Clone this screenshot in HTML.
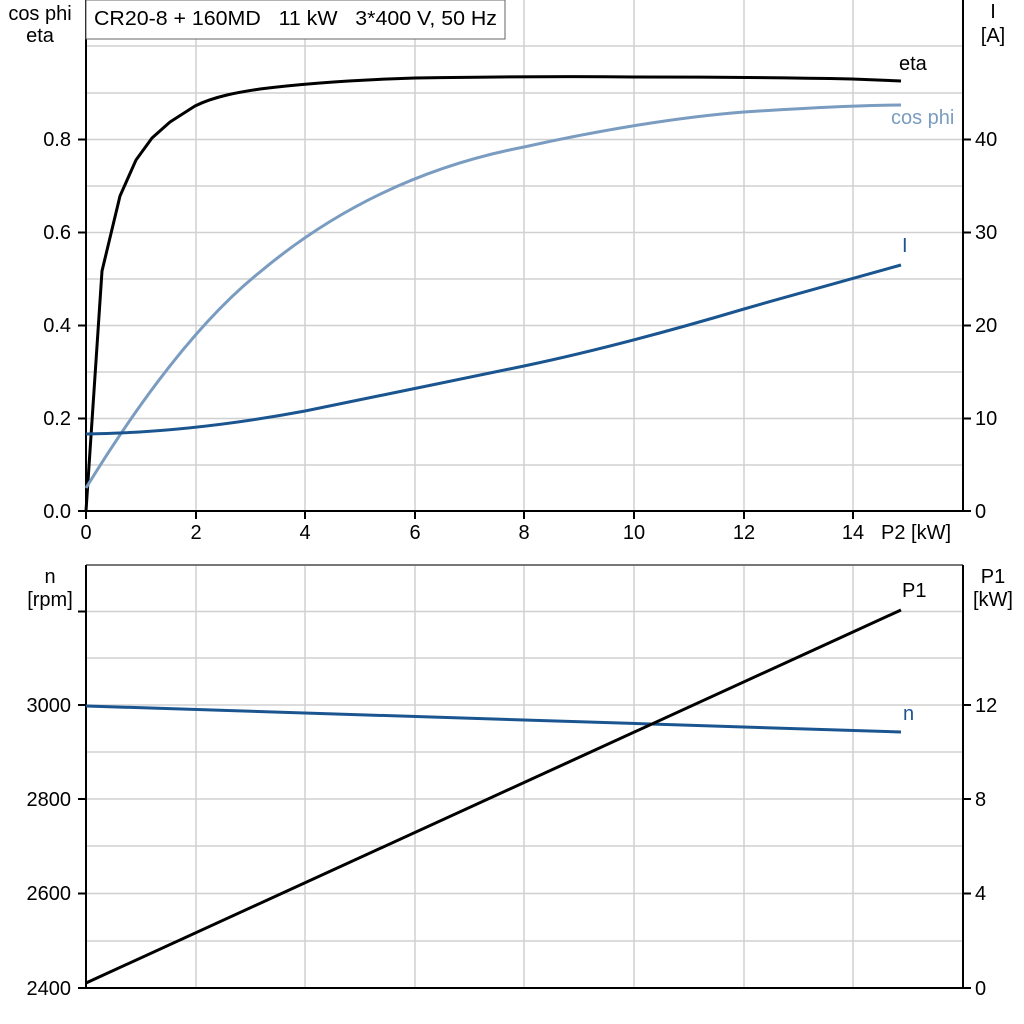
<!DOCTYPE html>
<html><head><style>body{margin:0;background:#fff}svg{display:block}text{font-family:"Liberation Sans",sans-serif;font-size:20px}</style></head><body>
<svg width="1024" height="1024" viewBox="0 0 1024 1024" xmlns="http://www.w3.org/2000/svg">
<g stroke="#d0d0d0" stroke-width="1.5" fill="none">
<path d="M196 0V511M305 0V511M415 0V511M524 0V511M634 0V511M744 0V511M853 0V511"/>
<path d="M86 46H963M86 93H963M86 139.5H963M86 186H963M86 232.5H963M86 279H963M86 325.5H963M86 372H963M86 418.5H963M86 465H963"/>
<path d="M196 565V988M305 565V988M415 565V988M524 565V988M634 565V988M744 565V988M853 565V988"/>
<path d="M86 611.5H963M86 658H963M86 705H963M86 752H963M86 799H963M86 846H963M86 893.5H963M86 941H963"/>
</g>
<line x1="86" y1="565" x2="963" y2="565" stroke="#777" stroke-width="2"/>
<g stroke="#000" stroke-width="2" fill="none">
<path d="M86 0V511H963V0"/>
<path d="M86 565V988H963V565"/>
<path d="M78 511H86M78 418.5H86M78 325.5H86M78 232.5H86M78 139.5H86"/>
<path d="M963 511H971M963 418.5H971M963 325.5H971M963 232.5H971M963 139.5H971"/>
<path d="M86 511V519M196 511V519M305 511V519M415 511V519M524 511V519M634 511V519M744 511V519M853 511V519"/>
<path d="M78 611.5H86M78 705H86M78 799H86M78 893.5H86M78 988H86"/>
<path d="M963 705H971M963 799H971M963 893.5H971M963 988H971"/>
</g>
<rect x="86" y="0" width="419" height="39" fill="#fff" stroke="#666" stroke-width="1"/>
<text x="94" y="25" xml:space="preserve" textLength="403" lengthAdjust="spacingAndGlyphs">CR20-8 + 160MD   11 kW   3*400 V, 50 Hz</text>
<g text-anchor="middle">
<text x="40" y="20">cos phi</text><text x="40" y="42">eta</text>
<text x="993" y="18">I</text><text x="993" y="42">[A]</text>
<text x="50" y="583">n</text><text x="50" y="606">[rpm]</text>
<text x="993" y="583">P1</text><text x="993" y="606">[kW]</text>
<text x="86" y="539">0</text><text x="196" y="539">2</text><text x="305" y="539">4</text><text x="415" y="539">6</text><text x="524" y="539">8</text><text x="634" y="539">10</text><text x="744" y="539">12</text><text x="853" y="539">14</text>
</g>
<text x="881" y="539">P2 [kW]</text>
<g text-anchor="end">
<text x="71" y="518">0.0</text><text x="71" y="425">0.2</text><text x="71" y="332">0.4</text><text x="71" y="239">0.6</text><text x="71" y="146">0.8</text>
<text x="71" y="712">3000</text><text x="71" y="806">2800</text><text x="71" y="900">2600</text><text x="71" y="995">2400</text>
</g>
<g>
<text x="975" y="518">0</text><text x="975" y="425">10</text><text x="975" y="332">20</text><text x="975" y="239">30</text><text x="975" y="146">40</text>
<text x="975" y="712">12</text><text x="975" y="806">8</text><text x="975" y="900">4</text><text x="975" y="995">0</text>
</g>
<g fill="none" stroke-width="3" stroke-linejoin="round">
<path stroke="#000" d="M86 511L102 271L120 196L136 160L152 138L170 122L195 106C215 96 240 92 260 89C300 84 350 80 415 78C480 77 560 76 634 77C720 77 800 78 852 79L901 81"/>
<path stroke="#7a9cc0" d="M86 488C140 400 200 320 260 272C340 205 430 165 524 147C600 130 680 117 744 112C820 107 870 105 901 105"/>
<path stroke="#1a5590" d="M86 434C160 433 230 425 305 411C380 396 450 381 524 366C600 350 680 328 744 309C800 293 860 276 901 265"/>
<path stroke="#1a5590" d="M86 706L901 732"/>
<path stroke="#000" d="M86 983L901 610"/>
</g>
<text x="899" y="70">eta</text>
<text x="891" y="124" fill="#7a9cc0">cos phi</text>
<text x="902" y="252" fill="#1a5590">I</text>
<text x="903" y="720" fill="#1a5590">n</text>
<text x="902" y="597">P1</text>
</svg>
</body></html>
